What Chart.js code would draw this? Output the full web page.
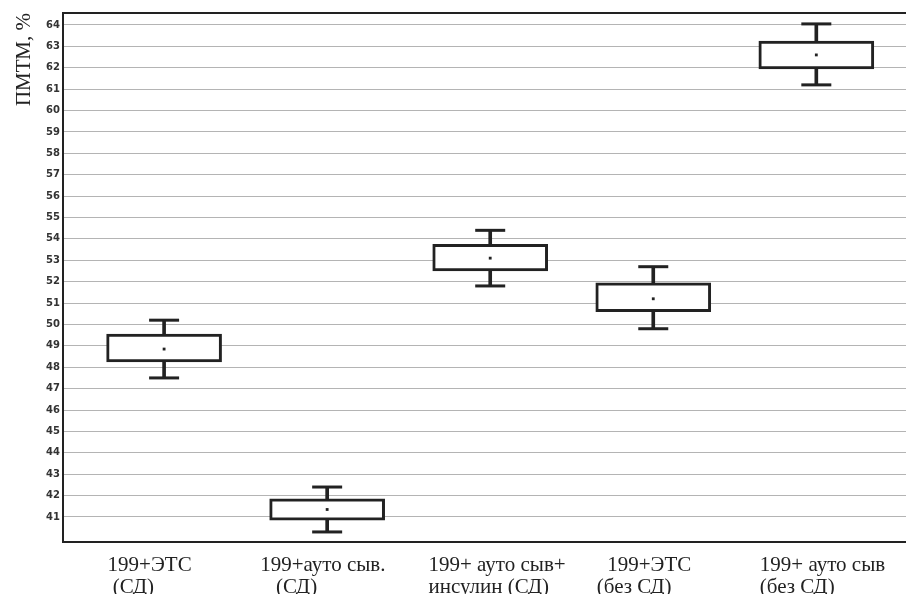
<!DOCTYPE html>
<html>
<head>
<meta charset="utf-8">
<script src="https://cdn.jsdelivr.net/npm/chart.js@4/dist/chart.umd.min.js"></script>
<style>
html,body{margin:0;padding:0;background:#fff;}
canvas{display:block;}
</style>
</head>
<body>
<canvas id="c" width="906" height="594"></canvas>
<script>
// Categories (two-line labels)
const categories = [
  ["  199+ЭТС", "   (СД)"],
  ["199+ауто сыв.", "   (СД)"],
  [" 199+ ауто сыв+", " инсулин (СД)"],
  ["    199+ЭТС", "  (без СД)"],
  ["  199+ ауто сыв", "  (без СД)"]
];
const categoryPos = [1, 2, 3, 4, 5];
// Box plot statistics, ПМТМ, %
const whiskerLow  = [47.5, 40.3, 51.8, 49.8, 61.2];
const q1          = [48.25, 40.85, 52.5, 50.6, 61.95];
const means       = [48.85, 41.35, 53.1, 51.2, 62.6];
const q3          = [49.55, 41.85, 53.75, 51.95, 63.25];
const whiskerHigh = [50.2, 42.4, 54.4, 52.7, 64.05];
// Y tick labels
const yTicks = [41,42,43,44,45,46,47,48,49,50,51,52,53,54,55,56,57,58,59,60,61,62,63,64];

const ink = '#222';
const boxData   = categoryPos.map((x, i) => ({x: x, y: [q1[i], q3[i]]}));
const upperStem = categoryPos.map((x, i) => ({x: x, y: [q3[i], whiskerHigh[i]]}));
const lowerStem = categoryPos.map((x, i) => ({x: x, y: [whiskerLow[i], q1[i]]}));
const caps = [];
categoryPos.forEach((x, i) => { caps.push({x: x, y: whiskerHigh[i]}); caps.push({x: x, y: whiskerLow[i]}); });
const meanPts = categoryPos.map((x, i) => ({x: x, y: means[i]}));

const noPad = s => { s.paddingLeft = 0; s.paddingRight = 0; s.paddingTop = 0; s.paddingBottom = 0; };

new Chart(document.getElementById('c'), {
  type: 'bar',
  data: {
    datasets: [
      {type: 'bar', order: 3, data: upperStem, grouped: false, barThickness: 3, backgroundColor: ink, borderWidth: 0},
      {type: 'bar', order: 3, data: lowerStem, grouped: false, barThickness: 3, backgroundColor: ink, borderWidth: 0},
      {type: 'bar', order: 2, data: boxData, grouped: false, barThickness: 115, backgroundColor: '#fff',
        borderColor: ink, borderWidth: 3, borderSkipped: false},
      {type: 'line', order: 1, data: caps, showLine: false, pointStyle: 'line', pointRadius: 15,
        pointBorderWidth: 3, pointBorderColor: ink, pointBackgroundColor: ink},
      {type: 'line', order: 0, data: meanPts, showLine: false, pointStyle: 'rect', pointRadius: 2,
        pointBorderWidth: 0, pointBackgroundColor: ink}
    ]
  },
  options: {
    responsive: false,
    devicePixelRatio: 1,
    animation: false,
    events: [],
    layout: {padding: 0, autoPadding: false},
    plugins: {legend: {display: false}, tooltip: {enabled: false}},
    scales: {
      x: {
        type: 'linear', position: 'bottom', min: 0.38, max: 5.55, offset: false,
        afterBuildTicks: s => { s.ticks = categoryPos.map(v => ({value: v})); },
        afterFit: s => { s.height = 52; noPad(s); },
        grid: {display: false, drawTicks: false},
        border: {display: true, color: ink, width: 2},
        ticks: {
          autoSkip: false, maxRotation: 0, minRotation: 0, align: 'start', labelOffset: -67,
          padding: 12, color: '#222',
          font: {family: '"Liberation Serif", "Times New Roman", serif', size: 21, lineHeight: 1.05},
          callback: (v, i) => categories[i]
        }
      },
      xTop: {
        type: 'linear', position: 'top', min: 0.38, max: 5.55, offset: false,
        afterFit: s => { s.height = 13; noPad(s); },
        grid: {display: false, drawTicks: false},
        border: {display: true, color: ink, width: 2},
        ticks: {display: false}
      },
      y: {
        type: 'linear', min: 39.83, max: 64.56,
        afterBuildTicks: s => { s.ticks = yTicks.map(v => ({value: v})); },
        afterFit: s => { s.width = 63; noPad(s); },
        grid: {color: '#b4b4b4', lineWidth: 1, drawTicks: false},
        border: {display: true, color: ink, width: 2},
        ticks: {
          padding: 3, color: '#333',
          font: {family: '"DejaVu Sans", Verdana, sans-serif', size: 10, weight: 'bold'},
          callback: v => String(v)
        },
        title: {
          display: true, text: 'ПМТМ, %', align: 'end', color: '#222',
          font: {family: '"Liberation Serif", "Times New Roman", serif', size: 21},
          padding: {top: 12, bottom: 0}
        }
      }
    }
  }
});
</script>
</body>
</html>
